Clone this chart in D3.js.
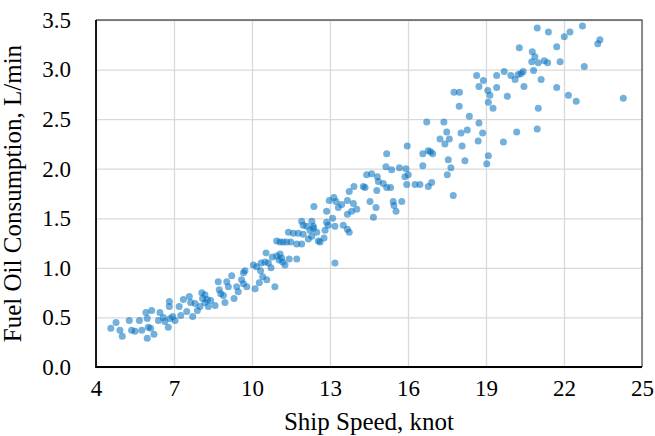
<!DOCTYPE html>
<html>
<head>
<meta charset="utf-8">
<script src="https://cdn.jsdelivr.net/npm/d3@7"></script>
<style>
  body { margin: 0; background: #fff; }
  .grid line { stroke: #d9d9d9; stroke-width: 1.3; }
  .grid path { display: none; }
  .axis path { display: none; }
  .axis line { display: none; }
  .axis text { font-family: "Liberation Serif", "Times New Roman", serif; font-size: 23px; fill: #000; }
  .title { font-family: "Liberation Serif", "Times New Roman", serif; font-size: 25px; fill: #000; }
</style>
</head>
<body>
<div id="graph"></div>
<script>
// values
var speed = [4.57,4.77,4.92,5.01,5.28,5.37,5.50,5.67,5.76,5.92,
  5.97,6.01,6.10,6.14,5.97,6.23,6.40,6.46,6.59,6.65,
  6.78,6.82,6.82,6.85,6.95,7.04,7.20,7.26,7.36,7.49,
  7.59,7.64,7.72,7.81,7.90,8.00,8.07,8.10,8.19,8.19,
  8.28,8.32,8.41,8.58,8.70,8.74,8.80,8.90,8.96,9.03,
  9.09,9.22,9.31,9.41,9.47,9.60,9.67,9.67,9.73,9.80,
  10.05,10.12,10.18,10.28,10.33,10.41,10.50,10.54,10.57,10.73,
  10.78,10.63,10.88,10.35,10.95,11.08,11.14,11.18,11.27,11.43,
  11.72,10.95,11.08,11.20,11.33,11.49,11.72,11.91,11.40,11.59,
  11.78,11.97,12.17,12.30,12.23,12.36,12.49,12.55,12.62,12.77,
  12.81,11.91,11.97,12.10,12.30,12.36,12.38,12.87,12.93,13.10,
  13.19,12.87,12.97,13.15,13.23,13.32,13.45,13.51,13.67,13.74,
  13.67,13.67,13.74,13.83,13.90,13.92,14.03,14.28,14.35,14.41,
  13.19,14.54,14.60,14.77,14.67,14.82,14.86,15.05,15.18,15.33,
  15.15,15.18,15.37,15.43,15.46,15.54,15.67,15.76,15.88,15.92,
  15.95,16.01,15.97,16.27,16.46,16.57,16.57,16.72,16.78,16.87,
  16.95,16.78,16.91,17.23,17.38,17.42,17.49,17.59,17.51,17.55,
  17.65,17.74,17.97,18.04,18.08,18.19,18.28,18.36,17.77,17.98,
  18.64,18.73,18.73,18.70,18.90,18.87,19.07,19.15,19.09,19.27,
  19.09,19.03,19.41,19.41,19.67,19.70,19.82,19.96,20.12,20.18,
  20.24,20.35,20.43,20.46,20.28,20.78,20.88,20.76,21.01,20.83,
  21.12,21.01,20.97,21.24,21.37,21.72,21.85,21.72,20.97,21.40,
  22.01,22.23,22.71,23.30,23.38,22.78,22.17,22.47,24.28,14.80,
  11.04];

var fuel = [0.39,0.45,0.37,0.31,0.47,0.37,0.36,0.47,0.37,0.55,
  0.49,0.40,0.39,0.57,0.29,0.33,0.47,0.55,0.50,0.46,
  0.40,0.66,0.61,0.49,0.51,0.47,0.61,0.52,0.68,0.56,
  0.71,0.65,0.51,0.64,0.57,0.61,0.75,0.69,0.73,0.65,
  0.68,0.61,0.67,0.62,0.86,0.78,0.74,0.72,0.65,0.86,
  0.81,0.92,0.69,0.81,0.76,0.88,0.84,0.95,0.97,0.81,
  1.03,0.79,1.01,0.85,0.97,0.91,1.06,1.15,0.88,1.00,
  1.11,1.05,0.81,1.05,1.12,1.14,1.10,1.06,1.03,1.09,
  1.09,1.27,1.26,1.26,1.26,1.26,1.24,1.24,1.36,1.35,
  1.35,1.34,1.29,1.32,1.38,1.40,1.36,1.27,1.26,1.30,
  1.38,1.47,1.43,1.42,1.47,1.42,1.62,1.46,1.43,1.50,
  1.42,1.57,1.68,1.71,1.67,1.61,1.64,1.43,1.39,1.36,
  1.68,1.54,1.77,1.57,1.65,1.82,1.59,1.82,1.81,1.94,
  1.05,1.67,1.95,1.61,1.51,1.92,1.87,1.85,1.81,1.81,
  2.02,2.15,1.99,1.67,1.63,1.57,2.01,1.67,1.92,2.00,
  1.84,1.94,2.23,1.84,1.84,2.03,2.15,2.47,2.18,2.17,
  2.15,1.82,1.86,2.30,2.47,2.25,2.37,2.30,1.94,2.09,
  2.01,1.73,2.63,2.36,2.23,2.08,2.39,2.53,2.77,2.77,
  2.94,2.83,2.46,2.28,2.89,2.36,2.79,2.74,2.67,2.61,
  2.13,2.05,2.94,2.82,2.27,2.98,2.73,2.94,2.90,2.37,
  2.95,2.96,2.98,2.83,3.22,3.18,3.13,3.08,3.07,2.99,
  2.90,2.61,2.40,3.09,3.07,3.23,3.08,2.82,3.42,3.38,
  3.33,3.38,3.44,3.26,3.30,3.03,2.74,2.68,2.71,1.78,
  1.08];

var xTicks = [4, 7, 10, 13, 16, 19, 22, 25];
var yTicks = [0, 0.5, 1, 1.5, 2, 2.5, 3, 3.5];

var xLabel = "Ship Speed, knot";
var yLabel = "Fuel Oil Consumption, L/min";

// set the dimensions and margins of the graph
var margin = { top: 20, right: 13, bottom: 69, left: 96 },
    width = 655 - margin.left - margin.right,
    height = 436 - margin.top - margin.bottom;

var svg = d3.select("#graph")
    .append("svg")
    .attr("width", 655)
    .attr("height", 436)
    .append("g")
    .attr("transform", "translate(" + margin.left + "," + margin.top + ")");

var x = d3.scaleLinear().domain([4, 25]).range([0, width]);
var y = d3.scaleLinear().domain([0, 3.5]).range([height, 0]);

// grids
svg.append("g")
    .attr("class", "grid")
    .call(d3.axisBottom(x).tickValues(xTicks).tickSize(height).tickFormat(""));

svg.append("g")
    .attr("class", "grid")
    .call(d3.axisLeft(y).tickValues(yTicks).tickSize(-width).tickFormat(""));

// axes (labels only)
svg.append("g")
    .attr("class", "axis")
    .attr("transform", "translate(0," + height + ")")
    .call(d3.axisBottom(x).tickValues(xTicks).tickSize(0).tickPadding(13).tickFormat(d3.format("d")));

svg.append("g")
    .attr("class", "axis")
    .call(d3.axisLeft(y).tickValues(yTicks).tickSize(0).tickPadding(25).tickFormat(d3.format(".1f")));

// points
var points = speed.map(function (s, i) { return { speed: s, fuel: fuel[i] }; });

svg.append("g")
    .selectAll("circle")
    .data(points)
    .enter()
    .append("circle")
    .attr("cx", function (d) { return x(d.speed); })
    .attr("cy", function (d) { return y(d.fuel); })
    .attr("r", 3.5)
    .attr("fill", "#0070c0")
    .attr("fill-opacity", 0.55);

// plot frame
svg.append("path")
    .attr("d", "M0,0H" + width + "V" + height)
    .attr("fill", "none")
    .attr("stroke", "#595959")
    .attr("stroke-width", 1.3);

svg.append("path")
    .attr("d", "M0,0V" + height + "H" + width)
    .attr("fill", "none")
    .attr("stroke", "#000")
    .attr("stroke-width", 1.8);

// axis titles
svg.append("text")
    .attr("class", "title")
    .attr("x", width / 2)
    .attr("y", height + 63)
    .attr("text-anchor", "middle")
    .text(xLabel);

svg.append("text")
    .attr("class", "title")
    .attr("transform", "rotate(-90)")
    .attr("x", -height / 2)
    .attr("y", -75)
    .attr("text-anchor", "middle")
    .text(yLabel);
</script>
</body>
</html>
